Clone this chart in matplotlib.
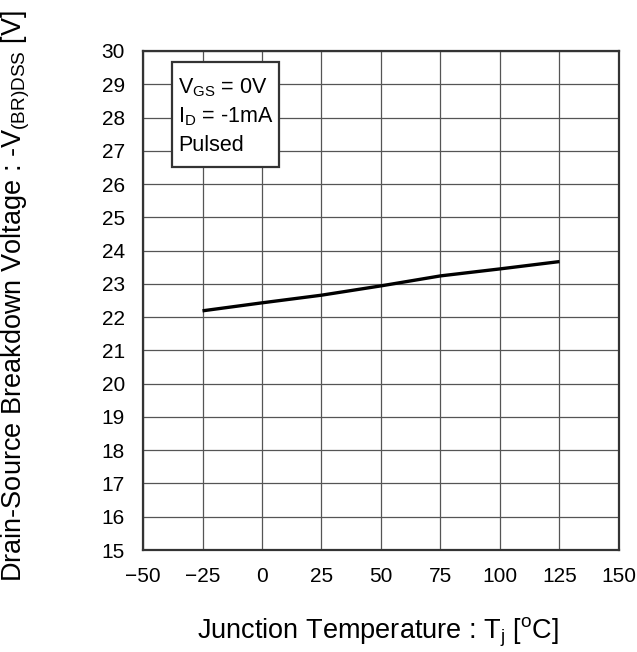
import matplotlib
matplotlib.use("Agg")
import matplotlib.pyplot as plt
from matplotlib.patches import Rectangle

plt.rcParams['font.family'] = ['Liberation Sans', 'DejaVu Sans']
plt.rcParams['mathtext.fontset'] = 'custom'
plt.rcParams['mathtext.rm'] = 'Liberation Sans'
plt.rcParams['mathtext.it'] = 'Liberation Sans'

temps = [-25, 0, 25, 50, 75, 100, 125]
voltage = [22.19, 22.43, 22.66, 22.94, 23.24, 23.45, 23.67]
xticks = [-50, -25, 0, 25, 50, 75, 100, 125, 150]
xticklabels = ['\u221250', '\u221225', '0', '25', '50', '75', '100', '125', '150']
yticks = list(range(15, 31))

fig = plt.figure(figsize=(6.37, 6.52), dpi=100)
ax = fig.add_axes([0.2245, 0.1564, 0.7472, 0.7654])
ax.plot(temps, voltage, color='black', lw=2.4, solid_capstyle='butt')
ax.set_xlim(-50, 150)
ax.set_ylim(15, 30)
ax.set_xticks(xticks)
ax.set_xticklabels(xticklabels)
ax.set_yticks(yticks)
ax.grid(True, color='#555555', lw=0.9)
ax.set_axisbelow(True)
ax.tick_params(axis='y', length=0, labelsize=15, pad=13)
ax.tick_params(axis='x', length=0, labelsize=15, pad=12)
for s in ax.spines.values():
    s.set_linewidth(1.6)
    s.set_color('#333333')

ax.set_xlabel(r'Junction Temperature : T$_\mathrm{j}$ [$^\mathrm{o}$C]', fontsize=19.5)
ax.xaxis.set_label_coords(0.494, -0.132)
ax.set_ylabel(r'Drain-Source Breakdown Voltage : -V$_\mathrm{(BR)DSS}$ [V]', fontsize=19.5)
ax.yaxis.set_label_coords(-0.233, 0.509)

box = Rectangle((0.061, 0.767), 0.225, 0.21, transform=ax.transAxes,
                facecolor='white', edgecolor='#333333', lw=1.6, zorder=5)
ax.add_patch(box)
ax.text(0.073, 0.916, r'V$_\mathrm{GS}$ = 0V', transform=ax.transAxes, fontsize=15.5, va='baseline', zorder=6)
ax.text(0.073, 0.856, r'I$_\mathrm{D}$ = -1mA', transform=ax.transAxes, fontsize=15.5, va='baseline', zorder=6)
ax.text(0.073, 0.800, 'Pulsed', transform=ax.transAxes, fontsize=15.5, va='baseline', zorder=6)

fig.savefig('out.png', dpi=100)
